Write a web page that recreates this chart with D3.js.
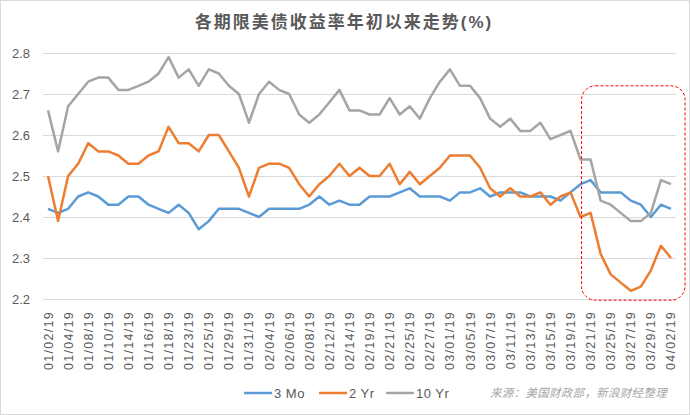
<!DOCTYPE html>
<html>
<head>
<meta charset="utf-8">
<script src="https://cdn.jsdelivr.net/npm/d3@7"></script>
<style>
  body { margin: 0; background: #fff; }
  text { font-family: "Liberation Sans", "Noto Sans CJK SC", sans-serif; }
</style>
</head>
<body>
<svg id="chart" width="690" height="415"></svg>
<script>
var dates = ["01/02/19","01/03/19","01/04/19","01/07/19","01/08/19","01/09/19","01/10/19","01/11/19","01/14/19","01/15/19",
  "01/16/19","01/17/19","01/18/19","01/22/19","01/23/19","01/24/19","01/25/19","01/28/19","01/29/19","01/30/19",
  "01/31/19","02/01/19","02/04/19","02/05/19","02/06/19","02/07/19","02/08/19","02/11/19","02/12/19","02/13/19",
  "02/14/19","02/15/19","02/19/19","02/20/19","02/21/19","02/22/19","02/25/19","02/26/19","02/27/19","02/28/19",
  "03/01/19","03/04/19","03/05/19","03/06/19","03/07/19","03/08/19","03/11/19","03/12/19","03/13/19","03/14/19",
  "03/15/19","03/18/19","03/19/19","03/20/19","03/21/19","03/22/19","03/25/19","03/26/19","03/27/19","03/28/19",
  "03/29/19","04/01/19","04/02/19"];

var mo3 = [2.42,2.41,2.42,2.45,2.46,2.45,2.43,2.43,2.45,2.45,
  2.43,2.42,2.41,2.43,2.41,2.37,2.39,2.42,2.42,2.42,
  2.41,2.40,2.42,2.42,2.42,2.42,2.43,2.45,2.43,2.44,
  2.43,2.43,2.45,2.45,2.45,2.46,2.47,2.45,2.45,2.45,
  2.44,2.46,2.46,2.47,2.45,2.46,2.46,2.46,2.45,2.45,
  2.45,2.44,2.46,2.48,2.49,2.46,2.46,2.46,2.44,2.43,
  2.40,2.43,2.42];

var yr2 = [2.50,2.39,2.50,2.53,2.58,2.56,2.56,2.55,2.53,2.53,
  2.55,2.56,2.62,2.58,2.58,2.56,2.60,2.60,2.56,2.52,
  2.45,2.52,2.53,2.53,2.52,2.48,2.45,2.48,2.50,2.53,
  2.50,2.52,2.50,2.50,2.53,2.48,2.51,2.48,2.50,2.52,
  2.55,2.55,2.55,2.52,2.47,2.45,2.47,2.45,2.45,2.46,
  2.43,2.45,2.46,2.40,2.41,2.31,2.26,2.24,2.22,2.23,
  2.27,2.33,2.30];

var yr10 = [2.66,2.56,2.67,2.70,2.73,2.74,2.74,2.71,2.71,2.72,
  2.73,2.75,2.79,2.74,2.76,2.72,2.76,2.75,2.72,2.70,
  2.63,2.70,2.73,2.71,2.70,2.65,2.63,2.65,2.68,2.71,
  2.66,2.66,2.65,2.65,2.69,2.65,2.67,2.64,2.69,2.73,
  2.76,2.72,2.72,2.69,2.64,2.62,2.64,2.61,2.61,2.63,
  2.59,2.60,2.61,2.54,2.54,2.44,2.43,2.41,2.39,2.39,
  2.41,2.49,2.48];

var yTicks = [2.2, 2.3, 2.4, 2.5, 2.6, 2.7, 2.8];
var seriesNames = ["3 Mo", "2 Yr", "10 Yr"];
var seriesColors = ["#5B9BD5", "#ED7D31", "#A5A5A5"];
var title = "各期限美债收益率年初以来走势(%)";
var source = "来源：美国财政部，新浪财经整理";

var svg = d3.select("#chart");
var margin = {left: 43, right: 14, top: 53, bottom: 116};
var W = 690, H = 415;

// outer border
svg.append("rect").attr("x", 0.5).attr("y", 0.5).attr("width", W - 1).attr("height", H - 1)
  .attr("fill", "#fff").attr("stroke", "#d9d9d9");

var x = d3.scaleBand().domain(dates).range([margin.left, W - margin.right]);
var y = d3.scaleLinear().domain([2.2, 2.8]).range([H - margin.bottom, margin.top]);
var cx = function(d) { return x(d) + x.bandwidth() / 2; };

// gridlines
svg.append("g").selectAll("line").data(yTicks).enter().append("line")
  .attr("x1", margin.left).attr("x2", W - margin.right)
  .attr("y1", function(d) { return Math.round(y(d)) + 0.5; })
  .attr("y2", function(d) { return Math.round(y(d)) + 0.5; })
  .attr("stroke", "#d9d9d9").attr("stroke-width", 1);

// y labels
svg.append("g").selectAll("text").data(yTicks).enter().append("text")
  .attr("x", 30).attr("y", function(d) { return y(d); })
  .attr("dy", "0.35em").attr("text-anchor", "end")
  .attr("font-size", 13).attr("fill", "#595959")
  .text(function(d) { return d.toFixed(1); });

// x labels, every other day
var xLabels = dates.filter(function(d, i) { return i % 2 === 0; });
svg.append("g").selectAll("text").data(xLabels).enter().append("text")
  .attr("transform", function(d) { return "translate(" + (cx(d) + 4.5) + "," + (H - margin.bottom + 12) + ") rotate(-90)"; })
  .attr("text-anchor", "end")
  .attr("font-size", 12.5).attr("letter-spacing", 1.3).attr("fill", "#595959")
  .text(function(d) { return d; });

// lines
var data = [mo3, yr2, yr10];
var line = d3.line()
  .x(function(d, i) { return cx(dates[i]); })
  .y(function(d) { return y(d); });

svg.append("g").selectAll("path").data(data).enter().append("path")
  .attr("d", line)
  .attr("fill", "none")
  .attr("stroke", function(d, i) { return seriesColors[i]; })
  .attr("stroke-width", 2.5)
  .attr("stroke-linejoin", "round");

// highlight box
var bx0 = cx(dates[53]) + 1, bx1 = W - 5;
svg.append("rect")
  .attr("x", bx0).attr("y", y(2.72))
  .attr("width", bx1 - bx0).attr("height", y(2.197) - y(2.72))
  .attr("rx", 14).attr("ry", 14)
  .attr("fill", "none").attr("stroke", "#ff0000")
  .attr("stroke-width", 1).attr("stroke-dasharray", "3,2");

// title
svg.append("text").attr("x", 344).attr("y", 28).attr("text-anchor", "middle")
  .attr("font-family", "Noto Sans CJK SC").attr("font-weight", "bold")
  .attr("font-size", 17).attr("letter-spacing", 2).attr("fill", "#595959")
  .text(title);

// legend
var lx = [244, 319, 386];
var lg = svg.append("g").selectAll("g").data(seriesNames).enter().append("g")
  .attr("transform", function(d, i) { return "translate(" + lx[i] + ",393)"; });
lg.append("line").attr("x1", 0).attr("x2", 28).attr("y1", 0).attr("y2", 0)
  .attr("stroke", function(d, i) { return seriesColors[i]; }).attr("stroke-width", 2.5);
lg.append("text").attr("x", 30).attr("dy", "0.35em")
  .attr("font-size", 13).attr("letter-spacing", 0.5).attr("fill", "#595959")
  .text(function(d) { return d; });

svg.append("text").attr("x", 490).attr("y", 393).attr("dy", "0.35em")
  .attr("font-family", "Noto Sans CJK SC").attr("font-style", "italic")
  .attr("font-size", 11.5).attr("letter-spacing", 0.3).attr("fill", "#a6a6a6")
  .text(source);
</script>
</body>
</html>
